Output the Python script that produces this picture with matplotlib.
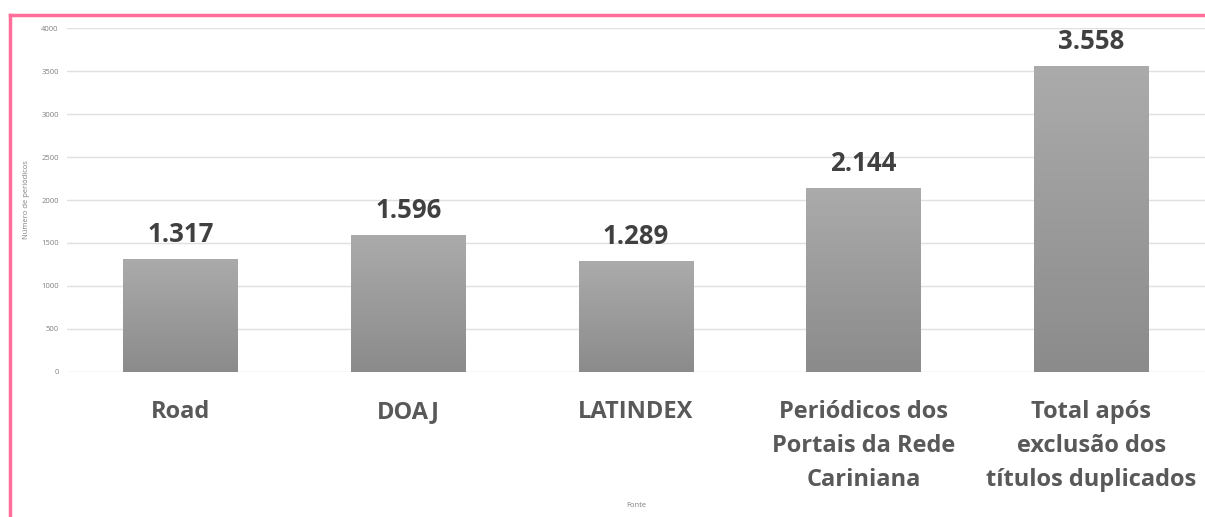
import numpy as np
import matplotlib.pyplot as plt
from matplotlib.lines import Line2D
from matplotlib.colors import LinearSegmentedColormap

# dados
categorias = ['Road', 'DOAJ', 'LATINDEX',
              'Periódicos dos\nPortais da Rede\nCariniana',
              'Total após\nexclusão dos\ntítulos duplicados']
valores = [1317, 1596, 1289, 2144, 3558]
rotulos = ['1.317', '1.596', '1.289', '2.144', '3.558']
yticks = [0, 500, 1000, 1500, 2000, 2500, 3000, 3500, 4000]

plt.rcParams['font.family'] = ['Open Sans', 'DejaVu Sans']

fig = plt.figure(figsize=(12.05, 5.17), dpi=100)
ax = fig.add_axes([0.0556, 0.2805, 0.9444, 0.6653])

x = np.arange(len(categorias))
bars = ax.bar(x, valores, width=0.505, color='#9c9c9c', zorder=2)

# gradiente vertical nas barras (claro em cima, escuro embaixo)
grad = np.linspace(0, 1, 256).reshape(-1, 1)
cmap = LinearSegmentedColormap.from_list('g', ['#8b8b8b', '#ababab'])
for b in bars:
    bx, by = b.get_x(), b.get_y()
    w, h = b.get_width(), b.get_height()
    im = ax.imshow(grad, extent=[bx, bx + w, by, by + h], origin='lower',
                   cmap=cmap, aspect='auto', zorder=3)
    im.set_clip_path(b)

for xi, v, r in zip(x, valores, rotulos):
    ax.annotate(r, (xi, v), xytext=(0, 8), textcoords='offset points',
                ha='center', va='bottom', fontsize=18.5, fontweight='bold',
                color='#404040')

ax.set_xlim(-0.5, 4.5)
ax.set_ylim(0, 4000)
ax.set_yticks(yticks)
ax.set_yticklabels([str(t) for t in yticks], fontsize=5.5, color='#808080')
ax.set_xticks(x)
ax.set_xticklabels(categorias, fontsize=17, fontweight='bold', color='#595959',
                   linespacing=1.55, va='top')
ax.tick_params(axis='x', length=0, pad=20)
ax.tick_params(axis='y', length=0, pad=6)
ax.grid(axis='y', color='#e0e0e0', lw=1, zorder=0)
ax.set_axisbelow(True)
for s in ax.spines.values():
    s.set_visible(False)
ax.set_ylabel('Número de periódicos', fontsize=5.5, color='#808080', labelpad=8)

fig.text(0.528, 0.019, 'Fonte', fontsize=5.5, color='#808080', ha='center')

# moldura rosa
fig.add_artist(Line2D([0.0085, 0.0085], [0, 0.971], color='#ff6f9a', lw=2.5,
                      transform=fig.transFigure))
fig.add_artist(Line2D([0.0085, 1.0], [0.971, 0.971], color='#ff6f9a', lw=2.5,
                      transform=fig.transFigure))

plt.savefig('out.png', dpi=100)
